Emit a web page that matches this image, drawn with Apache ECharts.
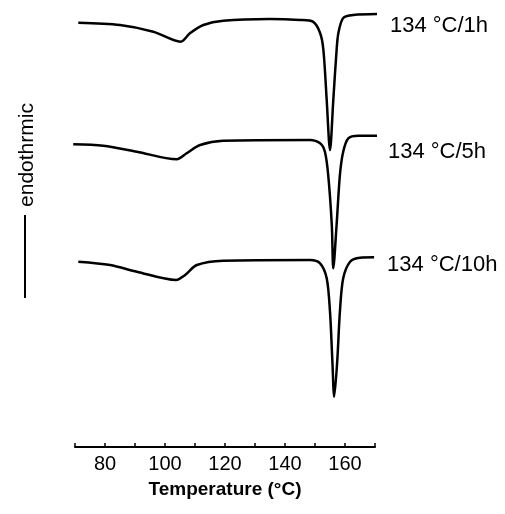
<!DOCTYPE html>
<html>
<head>
<meta charset="utf-8">
<script src="https://cdn.jsdelivr.net/npm/echarts@6/dist/echarts.min.js"></script>
<style>html,body{margin:0;padding:0;background:#fff}#c{width:505px;height:514px}</style>
</head>
<body>
<div id="c"></div>
<script>
// Temperature (°C) and heat flow (arbitrary units, endotherm downward)
var seriesNames = ['134 \u00B0C/1h', '134 \u00B0C/5h', '134 \u00B0C/10h'];
var temp1 = [71.1, 85.0, 96.1, 105.2, 108.3, 112.8, 119.4, 135.0, 145.0, 149.3, 151.7, 152.8, 153.9, 155.0, 156.1, 157.2, 157.8, 159.4, 162.8, 172.6];
var heat1 = [42.43, 42.2, 41.53, 40.53, 41.37, 42.2, 42.63, 42.8, 42.7, 42.53, 41.4, 39.7, 34.7, 29.7, 34.7, 39.7, 41.4, 42.9, 43.2, 43.3];
var temp2 = [69.4, 79.4, 90.6, 103.9, 107.2, 111.7, 119.4, 148.3, 151.7, 153.3, 154.4, 155.6, 156.1, 157.2, 158.3, 159.4, 161.1, 164.4, 172.6];
var heat2 = [30.27, 30.13, 29.53, 28.77, 29.37, 30.2, 30.63, 30.7, 30.37, 29.53, 27.2, 22.2, 17.87, 22.2, 27.2, 29.53, 30.87, 31.13, 31.13];
var temp3 = [71.1, 81.7, 90.6, 103.7, 106.7, 110.6, 119.4, 148.3, 151.7, 153.9, 155.0, 155.8, 156.4, 157.4, 158.3, 159.4, 161.7, 165.0, 169.7];
var heat3 = [18.53, 18.2, 17.53, 16.7, 17.2, 18.2, 18.63, 18.7, 18.37, 16.87, 13.53, 8.53, 5.03, 8.53, 13.53, 16.87, 18.53, 18.93, 18.97];
var xTicks = [80, 100, 120, 140, 160];
var yLabel = 'endothrmic';
var xLabel = 'Temperature (\u00B0C)';

function pairs(t, h) { return t.map(function (v, i) { return [v, h[i]]; }); }

var FONT = '"Liberation Sans", Arial, Helvetica, sans-serif';
var temps = [temp1, temp2, temp3];
var heats = [heat1, heat2, heat3];
var labelOffsets = [[0, 12], [0, 16], [0, 8]];
var labelDist = [13, 11, 13];

var chart = echarts.init(document.getElementById('c'), null, { renderer: 'canvas' });
chart.setOption({
  animation: false,
  backgroundColor: '#fff',
  grid: { left: 75, right: 130, top: 10, bottom: 67 },
  xAxis: {
    type: 'value', min: 70, max: 170, interval: 10,
    axisLine: { show: true, lineStyle: { color: '#000', width: 2 } },
    axisTick: { show: true, inside: true, length: 4, lineStyle: { color: '#000', width: 1.5 } },
    minorTick: { show: false },
    splitLine: { show: false },
    axisLabel: {
      margin: 7, color: '#000', fontSize: 20, fontFamily: FONT,
      formatter: function (v) { return xTicks.indexOf(v) >= 0 ? String(v) : ''; }
    },
    name: xLabel, nameLocation: 'middle', nameGap: 33,
    nameTextStyle: { color: '#000', fontSize: 19, fontWeight: 'bold', fontFamily: FONT }
  },
  yAxis: {
    type: 'value', min: 0, max: 43.7,
    show: false
  },
  graphic: [
    { type: 'text', x: 27, y: 155, rotation: Math.PI / 2,
      style: { text: yLabel, font: '21px ' + FONT, fill: '#000', textAlign: 'center', textVerticalAlign: 'middle' } },
    { type: 'line', shape: { x1: 25, y1: 215, x2: 25, y2: 298 }, style: { stroke: '#000', lineWidth: 2 } }
  ],
  series: seriesNames.map(function (name, i) {
    return {
      name: name, type: 'line', data: pairs(temps[i], heats[i]),
      clip: false, symbol: 'none', smooth: 0.3,
      lineStyle: { color: '#000', width: 2.5 },
      endLabel: {
        show: true, formatter: '{a}', distance: labelDist[i], offset: labelOffsets[i],
        color: '#000', fontSize: 22, fontFamily: FONT
      }
    };
  })
});
</script>
</body>
</html>
